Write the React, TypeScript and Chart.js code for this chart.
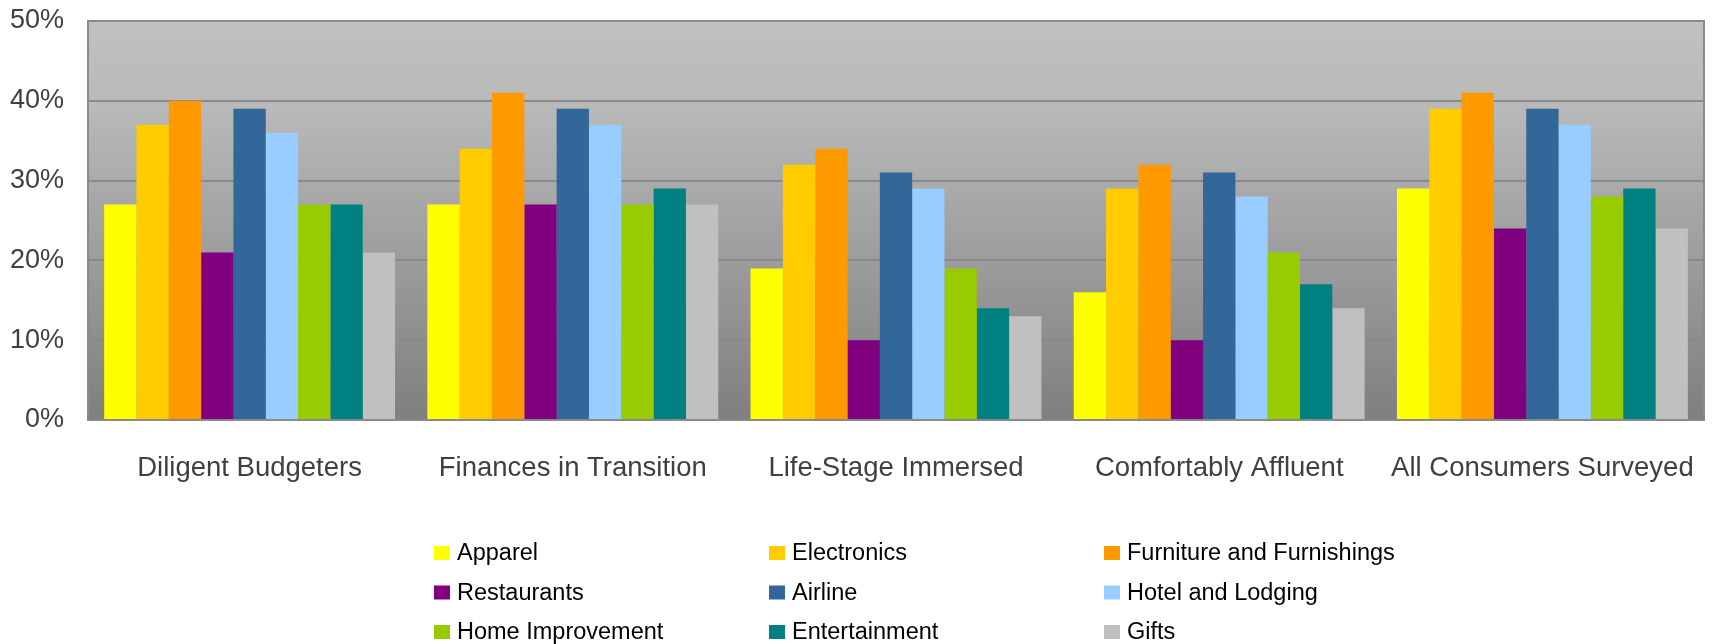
import React, { useEffect, useRef } from "react";
import { Chart, registerables } from "chart.js";

Chart.register(...registerables);

const categories = [
  "Diligent Budgeters",
  "Finances in Transition",
  "Life-Stage Immersed",
  "Comfortably Affluent",
  "All Consumers Surveyed",
];

const seriesNames = [
  "Apparel",
  "Electronics",
  "Furniture and Furnishings",
  "Restaurants",
  "Airline",
  "Hotel and Lodging",
  "Home Improvement",
  "Entertainment",
  "Gifts",
];

const seriesColors = [
  "#FFFF00",
  "#FFCC00",
  "#FF9900",
  "#800080",
  "#336699",
  "#99CCFF",
  "#99CC00",
  "#008080",
  "#C0C0C0",
];

// values per series, in category order
const apparel = [27, 27, 19, 16, 29];
const electronics = [37, 34, 32, 29, 39];
const furniture = [40, 41, 34, 32, 41];
const restaurants = [21, 27, 10, 10, 24];
const airline = [39, 39, 31, 31, 39];
const hotel = [36, 37, 29, 28, 37];
const homeImprovement = [27, 27, 19, 21, 28];
const entertainment = [27, 29, 14, 17, 29];
const gifts = [21, 27, 13, 14, 24];

const seriesValues = [
  apparel,
  electronics,
  furniture,
  restaurants,
  airline,
  hotel,
  homeImprovement,
  entertainment,
  gifts,
];

const yTicks = [0, 10, 20, 30, 40, 50];

const FONT = "'Liberation Sans', Arial, Helvetica, sans-serif";

const bgPlugin = {
  id: "plotBg",
  beforeDraw(chart: any) {
    const { ctx, chartArea } = chart;
    if (!chartArea) return;
    const g = ctx.createLinearGradient(0, chartArea.top, 0, chartArea.bottom);
    g.addColorStop(0, "#c0c0c0");
    g.addColorStop(0.2, "#bababa");
    g.addColorStop(0.55, "#a0a0a0");
    g.addColorStop(1, "#7f7f7f");
    ctx.save();
    ctx.fillStyle = g;
    ctx.fillRect(
      chartArea.left,
      chartArea.top,
      chartArea.right - chartArea.left,
      chartArea.bottom - chartArea.top
    );
    ctx.restore();
  },
  afterDraw(chart: any) {
    const { ctx, chartArea } = chart;
    ctx.save();
    ctx.strokeStyle = "#8a8a8a";
    ctx.lineWidth = 2;
    ctx.strokeRect(
      chartArea.left,
      chartArea.top,
      chartArea.right - chartArea.left,
      chartArea.bottom - chartArea.top
    );
    ctx.restore();
  },
};

const legendPlugin = {
  id: "gridLegend",
  afterDraw(chart: any) {
    const { ctx } = chart;
    const startX = 434;
    const colStep = 335;
    const startY = 553;
    const rowStep = 39.5;
    ctx.save();
    ctx.font = `23.5px ${FONT}`;
    ctx.textBaseline = "middle";
    ctx.textAlign = "left";
    chart.data.datasets.forEach((ds: any, i: number) => {
      const col = i % 3;
      const row = Math.floor(i / 3);
      const x = startX + col * colStep;
      const y = startY + row * rowStep;
      ctx.fillStyle = ds.backgroundColor;
      ctx.fillRect(x, y - 7, 16, 14);
      ctx.fillStyle = "#000000";
      ctx.fillText(ds.label, x + 23, y + 1);
    });
    ctx.restore();
  },
};

export default function App() {
  const canvasRef = useRef<HTMLCanvasElement | null>(null);

  useEffect(() => {
    if (!canvasRef.current) return;
    const chart = new Chart(canvasRef.current, {
      type: "bar",
      data: {
        labels: categories,
        datasets: seriesNames.map((name, i) => ({
          label: name,
          data: seriesValues[i],
          backgroundColor: seriesColors[i],
          borderWidth: 0,
          categoryPercentage: 0.9,
          barPercentage: 1.0,
        })),
      },
      options: {
        animation: false,
        responsive: false,
        maintainAspectRatio: false,
        devicePixelRatio: 1,
        layout: { padding: { left: 0, top: 21, right: 9, bottom: 0 } },
        plugins: {
          legend: { display: false },
          tooltip: { enabled: false },
          title: { display: false },
        },
        scales: {
          x: {
            grid: { display: false, drawTicks: false },
            border: { display: false },
            ticks: {
              color: "#404040",
              font: { family: FONT, size: 27.5 },
              padding: 32,
              maxRotation: 0,
              autoSkip: false,
            },
            afterFit(scale: any) {
              scale.height = 224;
              scale.paddingLeft = 0;
              scale.paddingRight = 0;
            },
          },
          y: {
            min: 0,
            max: 50,
            afterBuildTicks(scale: any) {
              scale.ticks = yTicks.map((v) => ({ value: v }));
            },
            grid: {
              color: "#8a8a8a",
              lineWidth: 2,
              drawTicks: false,
            },
            border: { display: false },
            ticks: {
              color: "#404040",
              font: { family: FONT, size: 27 },
              padding: 24,
              callback: (v: any) => `${v}%`,
            },
            afterFit(scale: any) {
              scale.width = 88;
              scale.paddingTop = 0;
              scale.paddingBottom = 0;
            },
          },
        },
      },
      plugins: [bgPlugin, legendPlugin],
    });
    return () => chart.destroy();
  }, []);

  return (
    <div style={{ position: "absolute", left: 0, top: 0, width: 1713, height: 644, background: "#ffffff" }}>
      <canvas ref={canvasRef} width={1713} height={644} style={{ display: "block" }} />
    </div>
  );
}
